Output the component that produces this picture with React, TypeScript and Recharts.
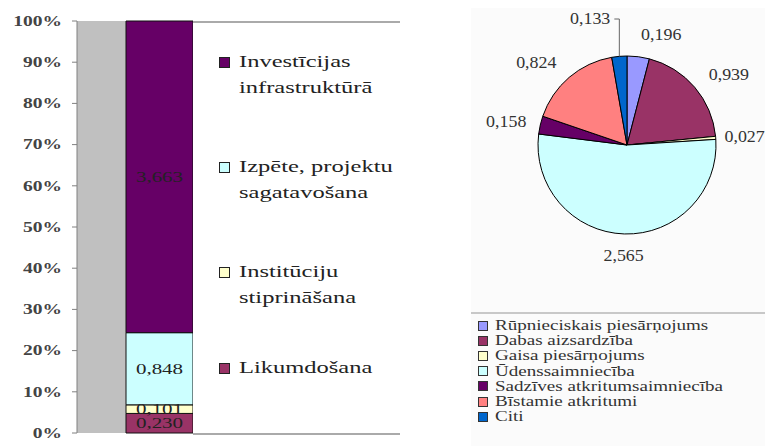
import { BarChart, Bar, XAxis, YAxis, CartesianGrid, PieChart, Pie, Cell, Legend } from "recharts";

// left chart: stacked 100% column
const barCategories = [
  "Investīcijas infrastruktūrā",
  "Izpēte, projektu sagatavošana",
  "Institūciju stiprināšana",
  "Likumdošana",
];
const barValues = [3.663, 0.848, 0.101, 0.23];
const barColors = ["#660066", "#CCFFFF", "#FFFFCC", "#993366"];
const percentTicks = [0, 0.1, 0.2, 0.3, 0.4, 0.5, 0.6, 0.7, 0.8, 0.9, 1];

// right chart: pie
const pieCategories = [
  "Rūpnieciskais piesārņojums",
  "Dabas aizsardzība",
  "Gaisa piesārņojums",
  "Ūdenssaimniecība",
  "Sadzīves atkritumsaimniecība",
  "Bīstamie atkritumi",
  "Citi",
];
const pieValues = [0.196, 0.939, 0.027, 2.565, 0.158, 0.824, 0.133];
const pieColors = ["#9999FF", "#993366", "#FFFFCC", "#CCFFFF", "#660066", "#FF8080", "#0066CC"];

const serif = '"Liberation Serif", "DejaVu Serif", serif';
const fmt = (v: number) => v.toFixed(3).replace(".", ",");

const barRow: Record<string, number | string> = { name: "" };
barValues.forEach((v, i) => (barRow["s" + i] = v));
const barData = [barRow];

const pieData = pieCategories.map((name, i) => ({ name, value: pieValues[i] }));
const pieTotal = pieValues.reduce((a, b) => a + b, 0);

function PercentTick(props: any) {
  const { x, y, payload } = props;
  return (
    <text
      transform={`translate(${x},${y}) scale(1.3,1)`}
      textAnchor="end"
      dominantBaseline="central"
      style={{ fontFamily: serif }}
      fontSize={15}
      fontWeight="bold"
      fill="#444"
    >
      {Math.round(payload.value * 100)}%
    </text>
  );
}

function barLabel(text: string) {
  return (props: any) => {
    const { x, y, width, height } = props;
    return (
      <text
        transform={`translate(${x + width / 2},${y + height / 2}) scale(1.4,1)`}
        textAnchor="middle"
        dominantBaseline="central"
        style={{ fontFamily: serif }}
        fontSize={15}
        fill="#222"
      >
        {text}
      </text>
    );
  };
}

function renderPieLabel(props: any) {
  const { cx, cy, midAngle, outerRadius, value } = props;
  const rad = (-midAngle * Math.PI) / 180;
  const ux = Math.cos(rad);
  const uy = Math.sin(rad);
  const style = { fontFamily: serif };

  // small slice near the top gets lifted on a leader line
  if (value / pieTotal < 0.03 && Math.abs(ux) < 0.15 && uy < 0) {
    const ex = cx + outerRadius * ux;
    const ey = cy + outerRadius * uy;
    const ty = cy - outerRadius - 37;
    return (
      <g>
        <polyline points={`${ex},${ey} ${ex},${ty} ${ex - 5},${ty}`} fill="none" stroke="#666" strokeWidth={1} />
        <text
          transform={`translate(${ex - 9},${ty}) scale(1.12,1)`}
          textAnchor="end"
          dominantBaseline="central"
          style={style}
          fontSize={16}
          fill="#333"
        >
          {fmt(value)}
        </text>
      </g>
    );
  }

  const r = outerRadius + 12 + 10 * Math.abs(uy);
  const x = cx + r * ux - (ux > 0.9 ? 4 : 0);
  const y = cy + r * uy;
  const anchor = ux > 0.1 ? "start" : ux < -0.1 ? "end" : "middle";
  return (
    <text
      transform={`translate(${x},${y}) scale(1.12,1)`}
      textAnchor={anchor}
      dominantBaseline="central"
      style={style}
      fontSize={16}
      fill="#333"
    >
      {fmt(value)}
    </text>
  );
}

const legendGaps = [0, 54, 54, 45];

function BarLegend() {
  return (
    <div
      style={{
        width: "100%",
        height: "100%",
        boxSizing: "border-box",
        background: "#fff",
        borderTop: "2px solid #aaa",
        borderBottom: "2px solid #aaa",
        paddingTop: 26,
      }}
    >
      {barCategories.map((name, i) => (
        <div key={name} style={{ display: "flex", alignItems: "flex-start", marginTop: legendGaps[i] }}>
          <div
            style={{
              width: 9,
              height: 9,
              marginLeft: 26,
              marginTop: 8,
              background: barColors[i],
              border: "1px solid #222",
              flexShrink: 0,
            }}
          />
          <div
            style={{
              marginLeft: 9,
              width: 122,
              fontFamily: serif,
              fontSize: 17.5,
              lineHeight: "25.5px",
              color: "#222",
              transform: "scaleX(1.4)",
              transformOrigin: "left",
            }}
          >
            {name}
          </div>
        </div>
      ))}
    </div>
  );
}

function PieLegend() {
  return (
    <div
      style={{
        width: "100%",
        boxSizing: "border-box",
        borderTop: "2px solid #c8c8c8",
        paddingTop: 4,
      }}
    >
      {pieCategories.map((name, i) => (
        <div key={name} style={{ display: "flex", alignItems: "center", height: 15.2 }}>
          <div
            style={{
              width: 8,
              height: 8,
              marginLeft: 7,
              background: pieColors[i],
              border: "1px solid #333",
              flexShrink: 0,
            }}
          />
          <div
            style={{
              marginLeft: 7,
              fontFamily: serif,
              fontSize: 15,
              color: "#333",
              whiteSpace: "nowrap",
              transform: "scaleX(1.27)",
              transformOrigin: "left",
            }}
          >
            {name}
          </div>
        </div>
      ))}
    </div>
  );
}

export default function App() {
  return (
    <div style={{ position: "absolute", left: 0, top: 0, width: 765, height: 446, background: "#fff", overflow: "hidden", fontFamily: serif }}>
      <div style={{ position: "absolute", left: 471, top: 8, width: 294, height: 438, background: "#fbfbfb" }} />
      <div style={{ position: "absolute", left: 0, top: 0 }}>
        <BarChart
          width={400}
          height={446}
          data={barData}
          stackOffset="expand"
          margin={{ top: 21, right: 158, bottom: 13, left: 0 }}
        >
          <CartesianGrid horizontal={false} vertical={false} fill="#C0C0C0" />
          <XAxis dataKey="name" hide />
          <YAxis
            type="number"
            domain={[0, 1]}
            ticks={percentTicks}
            width={77}
            tick={<PercentTick />}
            tickSize={5}
            tickMargin={10}
            axisLine={{ stroke: "#808080" }}
            tickLine={{ stroke: "#808080" }}
            interval={0}
          />
          {barValues
            .map((v, i) => (
              <Bar
                key={i}
                dataKey={"s" + i}
                stackId="a"
                fill={barColors[i]}
                stroke="#111"
                strokeWidth={1}
                barSize={67}
                isAnimationActive={false}
                label={barLabel(fmt(v))}
              />
            ))
            .reverse()}
          <Legend
            layout="horizontal"
            verticalAlign="middle"
            align="center"
            content={() => <BarLegend />}
            wrapperStyle={{ left: 193, top: 21, width: 207, height: 414 }}
          />
        </BarChart>
      </div>
      <div style={{ position: "absolute", left: 420, top: 0 }}>
        <PieChart width={345} height={446} margin={{ top: 0, right: 0, bottom: 0, left: 0 }}>
          <Pie
            data={pieData}
            dataKey="value"
            nameKey="name"
            cx={207}
            cy={145}
            outerRadius={89}
            startAngle={90}
            endAngle={-270}
            stroke="#000"
            strokeWidth={1}
            labelLine={false}
            label={renderPieLabel}
            isAnimationActive={false}
          >
            {pieData.map((d, i) => (
              <Cell key={d.name} fill={pieColors[i]} />
            ))}
          </Pie>
          <Legend
            layout="horizontal"
            verticalAlign="middle"
            align="center"
            content={() => <PieLegend />}
            wrapperStyle={{ left: 51, top: 312, width: 294, height: 134 }}
          />
        </PieChart>
      </div>
    </div>
  );
}
